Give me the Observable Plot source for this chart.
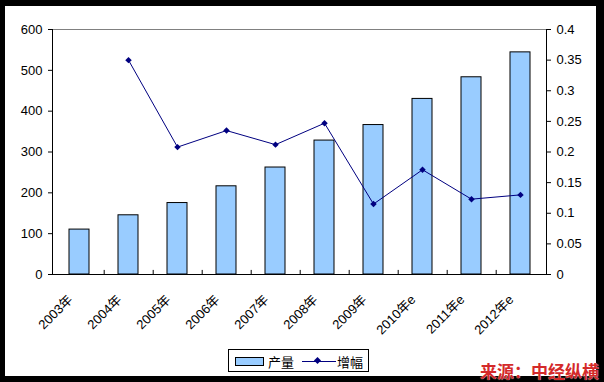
<!DOCTYPE html>
<html>
<head>
<meta charset="utf-8">
<script src="https://cdn.jsdelivr.net/npm/d3@7"></script>
<script src="https://cdn.jsdelivr.net/npm/@observablehq/plot@0.6"></script>
<style>
  html, body { margin: 0; padding: 0; background: #000; }
  #wrap { position: relative; width: 604px; height: 382px; background: #000; overflow: hidden; font-family: "Liberation Sans", Arial, "Noto Sans CJK SC", sans-serif; }
  #inner { position: absolute; left: 5px; top: 6px; width: 591px; height: 370px; background: #fff; }
  #chart { position: absolute; left: 0; top: 0; }
  #legend { position: absolute; left: 228px; top: 349px; width: 139px; height: 21px; border: 1px solid #000; background: #fff; font-size: 13px; color: #000; }
  #legend .sw { position: absolute; left: 6px; top: 7px; width: 27px; height: 7px; background: #99CCFF; border: 1px solid #000; }
  #legend .t1 { position: absolute; left: 39px; top: 2px; }
  #legend .ln { position: absolute; left: 73px; top: 11px; width: 34px; height: 1px; background: #000080; }
  #legend .dm { position: absolute; left: 86px; top: 8px; width: 5px; height: 5px; background: #000080; transform: rotate(45deg); }
  #legend .t2 { position: absolute; left: 108px; top: 2px; }
  #source { position: absolute; left: 480px; top: 358px; font-size: 17px; font-weight: bold; color: #d42a2a; font-family: "Noto Sans CJK SC", sans-serif; white-space: nowrap; text-shadow: 0 0 1px #fff; }
</style>
</head>
<body>
<div id="wrap">
  <div id="inner"></div>
  <div id="chart"></div>
  <div id="legend"><div class="sw"></div><span class="t1">产量</span><div class="ln"></div><div class="dm"></div><span class="t2">增幅</span></div>
  <div id="source">来源：中经纵横</div>
</div>
<script>
const years = ["2003年","2004年","2005年","2006年","2007年","2008年","2009年","2010年e","2011年e","2012年e"];
const output = [110,145,175,216,262,328,366,430,483,544];
const growth = [null,0.35,0.208,0.235,0.212,0.247,0.115,0.171,0.123,0.13];
const leftTicks = [0,100,200,300,400,500,600];
const rightTicks = [0,0.05,0.1,0.15,0.2,0.25,0.3,0.35,0.4];
const ratio = 600 / 0.4;

const bars = years.map((y, i) => ({year: y, value: output[i]}));
const pts = years.map((y, i) => ({year: y, g: growth[i]})).filter(d => d.g != null);
const boundaries = years.slice(0, -1).map(y => ({year: y}));

const font = "'Liberation Sans', Arial, 'Noto Sans CJK SC', sans-serif";

const chart = Plot.plot({
  width: 604,
  height: 382,
  marginLeft: 52,
  marginRight: 58,
  marginTop: 29,
  marginBottom: 108,
  style: {background: "transparent", fontFamily: font, color: "#000"},
  x: {type: "band", domain: years, paddingInner: 0.6, paddingOuter: 0.3, axis: null, label: null},
  y: {domain: [0, 600], axis: null, label: null},
  marks: [
    Plot.barY(bars, {x: "year", y: "value", fill: "#99CCFF", stroke: "#000", strokeWidth: 1}),
    Plot.frame({anchor: "top", stroke: "#808080"}),
    Plot.frame({anchor: "left", stroke: "#000"}),
    Plot.frame({anchor: "right", stroke: "#000"}),
    Plot.frame({anchor: "bottom", stroke: "#000"}),
    Plot.ruleX(boundaries, {x: "year", y1: 0, y2: 10, dx: 24.7, stroke: "#000"}),
    Plot.axisY({anchor: "left", label: null, ticks: leftTicks, tickSize: 4, tickPadding: 6, fontSize: 13, stroke: "#000"}),
    Plot.axisY({anchor: "right", label: null, ticks: rightTicks.map(v => v * ratio), tickFormat: d => String(Math.round(d / ratio * 100) / 100), tickSize: 4, tickPadding: 6, fontSize: 13, stroke: "#000"}),
    Plot.axisX({anchor: "bottom", label: null, tickSize: 0, tickRotate: -45, tickPadding: 23, dx: -9, fontSize: 13}),
    Plot.line(pts, {x: "year", y: d => d.g * ratio, stroke: "#000080", strokeWidth: 1}),
    Plot.dot(pts, {x: "year", y: d => d.g * ratio, symbol: "diamond2", r: 2.9, fill: "#000080", stroke: "none"})
  ]
});
document.getElementById("chart").appendChild(chart);
</script>
</body>
</html>
